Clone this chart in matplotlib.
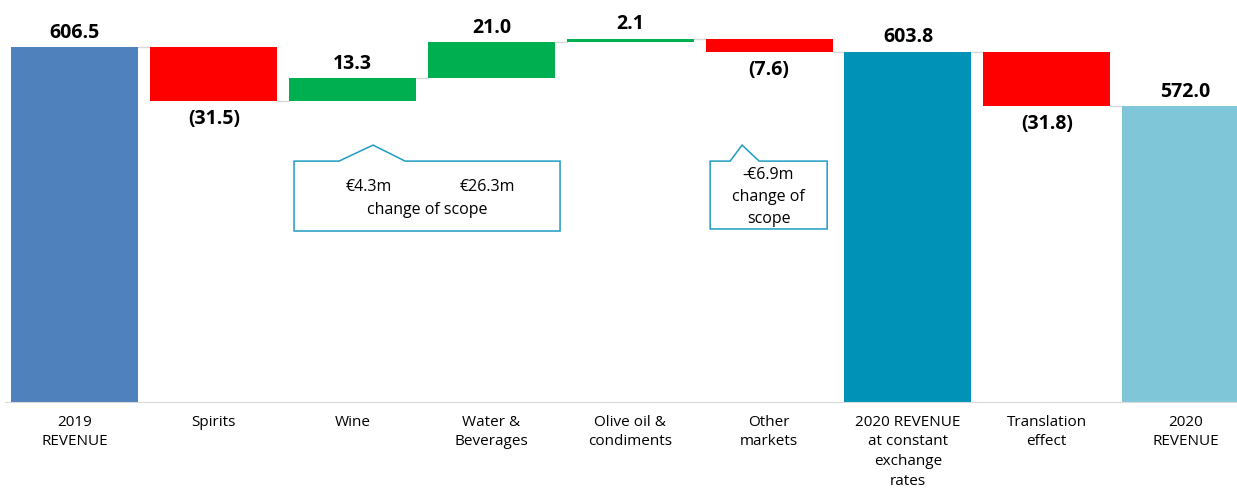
#!/usr/bin/env python3
"""Waterfall: 2019 revenue to 2020 revenue bridge."""

import matplotlib.pyplot as plt
from matplotlib.patches import Polygon

categories = [
    "2019\nREVENUE",
    "Spirits",
    "Wine",
    "Water &\nBeverages",
    "Olive oil &\ncondiments",
    "Other\nmarkets",
    "2020 REVENUE\nat constant\nexchange\nrates",
    "Translation\neffect",
    "2020\nREVENUE",
]
values = [606.5, -31.5, 13.3, 21.0, 2.1, -7.6, 603.8, -31.8, 572.0]
is_total = [True, False, False, False, False, False, True, False, True]
total_colors = {0: "#4F81BD", 6: "#0093B7", 8: "#7FC7D8"}
UP, DOWN = "#00B050", "#FF0000"

# callout notes (x in category units, y in value units)
note1 = ["€4.3m", "€26.3m", "change of scope"]
note2 = "-€6.9m\nchange of\nscope"

fig = plt.figure(figsize=(12.37, 4.91), dpi=100)
ax = fig.add_axes([5 / 1237, 89 / 491, 1 - 5 / 1237, 402 / 491])

width = 0.915
running = 0.0
ends = []
for i, (v, tot) in enumerate(zip(values, is_total)):
    if tot:
        bottom, height = 0, v
        color = total_colors[i]
        running = v
        top = v
    else:
        start = running
        running = start + v
        bottom, height = min(start, running), abs(v)
        color = UP if v > 0 else DOWN
        top = max(start, running)
    ax.bar(i, height, bottom=bottom, width=width, color=color, zorder=2)
    ends.append(running)
    if tot or v > 0:
        ax.text(i, top + 2.5, f"{abs(v):.1f}", ha="center", va="bottom",
                fontsize=14, fontweight="bold", family="Open Sans")
    else:
        ax.text(i, bottom - 5, f"({abs(v):.1f})", ha="center", va="top",
                fontsize=14, fontweight="bold", family="Open Sans")

# connectors
for i in range(len(values) - 1):
    ax.plot([i + width / 2, i + 1 - width / 2], [ends[i], ends[i]],
            color="#D9D9D9", lw=1, zorder=1)

edge = "#1F9BC4"
box1 = [(1.578, 498.6), (1.578, 539.6), (1.902, 539.6), (2.147, 549.0),
        (2.378, 539.6), (3.494, 539.6), (3.494, 498.6)]
ax.add_patch(Polygon(box1, closed=True, fill=False, edgecolor=edge, lw=1.1, zorder=3))
ax.text(2.12, 524.5, note1[0], ha="center", va="center", fontsize=11.5, family="Open Sans")
ax.text(2.97, 524.5, note1[1], ha="center", va="center", fontsize=11.5, family="Open Sans")
ax.text(2.536, 511.0, note1[2], ha="center", va="center", fontsize=11.5, family="Open Sans")

box2 = [(4.575, 499.8), (4.575, 539.6), (4.719, 539.6), (4.805, 549.0),
        (4.928, 539.6), (5.418, 539.6), (5.418, 499.8)]
ax.add_patch(Polygon(box2, closed=True, fill=False, edgecolor=edge, lw=1.1, zorder=3))
ax.text(4.996, 518.5, note2, ha="center", va="center", fontsize=11.5,
        family="Open Sans", linespacing=1.5)

ax.set_xlim(-0.504, 8.37)
ax.set_ylim(398.3, 634.1)
ax.set_xticks(range(len(categories)))
ax.set_xticklabels(categories, fontsize=11, family="Open Sans", linespacing=1.45)
ax.tick_params(axis="x", length=0, pad=9)
ax.set_yticks([])
for s in ["top", "left", "right"]:
    ax.spines[s].set_visible(False)
ax.spines["bottom"].set_color("#D9D9D9")
ax.spines["bottom"].set_zorder(3)

fig.savefig("out.png", dpi=100)
